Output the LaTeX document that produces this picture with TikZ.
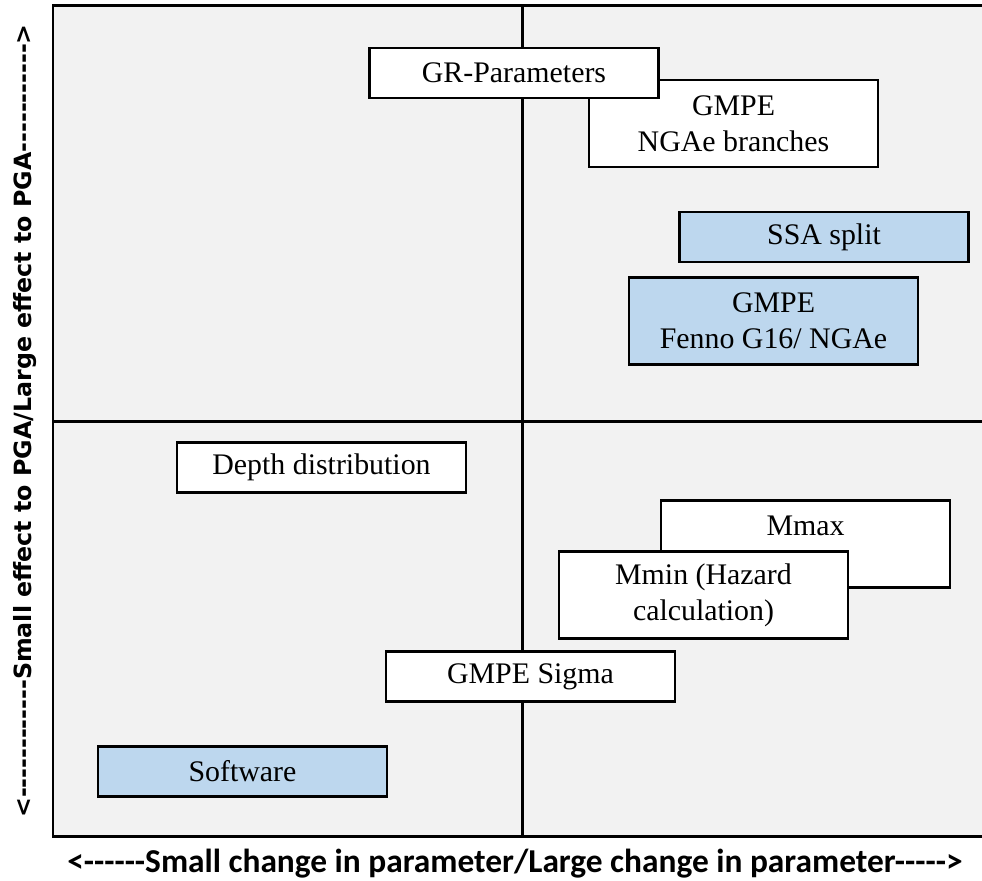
\documentclass[tikz,border=0pt]{standalone}
\usepackage{fontspec}
\setmainfont{Liberation Serif}
\newfontfamily\xlabfont{Carlito}[Ligatures=TeXOff]
\newfontfamily\ylabfont{DejaVu Sans}[Ligatures=TeXOff]
\definecolor{panelgray}{HTML}{F2F2F2}
\definecolor{lightblue}{HTML}{BDD7EE}
\tikzset{
	item/.style={draw=black,line width=1.4pt,fill=white,minimum width=5.78cm,minimum height=1cm,
		inner sep=0pt,align=center,font=\fontsize{17}{20.4}\selectfont},
	tall/.style={minimum height=1.74cm},
	hi/.style={fill=lightblue}
}

\begin{document}
\begin{tikzpicture}
	\useasboundingbox (0,0) rectangle (19.64,17.6);
	\fill[panelgray] (1.06,0.88) rectangle (19.64,17.48);
	\draw[line width=1.7pt] (19.64,17.48)--(1.06,17.48)--(1.06,0.88)--(19.64,0.88);
	\draw[line width=1.7pt] (10.44,0.88)--(10.44,17.48);
	\draw[line width=1.7pt] (1.06,9.17)--(19.64,9.17);
	% upper half
	\node[item,tall] (ngae) at (14.67,15.13) {GMPE\\NGAe branches};
	\node[item] (gr) at (10.28,16.14) {GR-Parameters};
	\node[item,hi] (ssa) at (16.48,12.86) {SSA split};
	\node[item,tall,hi] (fenno) at (15.47,11.18) {GMPE\\Fenno G16/ NGAe};
	% lower half
	\node[item] (depth) at (6.43,8.25) {Depth distribution};
	\node[item,tall] (mmax) at (16.11,6.72) {Mmax\\~};
	\node[item,tall] (mmin) at (14.07,5.70) {Mmin (Hazard\\calculation)};
	\node[item] (sigma) at (10.61,4.07) {GMPE Sigma};
	\node[item,hi] (soft) at (4.85,2.17) {Software};
	% axis labels
	\node[rotate=90,font=\ylabfont\bfseries\fontsize{13.5}{16}\selectfont] (ylab) at (0.5,9.18)
		{<------------Small effect to PGA/Large effect to PGA----------->};
	\node[anchor=base,font=\xlabfont\bfseries\fontsize{19}{23}\selectfont] (xlab) at (10.3,0.15)
		{<------Small change in parameter/Large change in parameter----->};
\end{tikzpicture}
\end{document}
